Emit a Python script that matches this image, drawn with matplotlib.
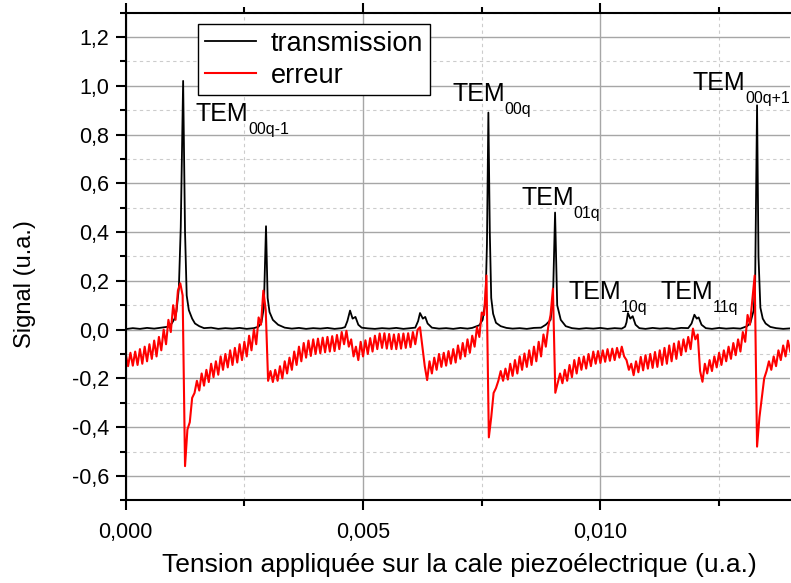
import numpy as np
import matplotlib
matplotlib.use("Agg")
import matplotlib.pyplot as plt
from matplotlib.ticker import MultipleLocator, FuncFormatter

plt.rcParams['font.family'] = ['Liberation Sans', 'DejaVu Sans']

# transmission (pics d'Airy), abscisse en unites de 1e-3
trans_x = [0.00, 0.15, 0.30, 0.45, 0.60, 0.75, 0.90, 0.97, 1.03, 1.07, 1.12, 1.16, 1.21, 1.25, 1.285,
           1.33, 1.40, 1.46, 1.55, 1.65, 1.80, 1.95, 2.10, 2.25, 2.40, 2.55, 2.70, 2.80, 2.86, 2.91,
           2.956, 2.99, 3.03, 3.10, 3.21, 3.35, 3.50, 3.65, 3.80, 3.95, 4.10, 4.25, 4.40, 4.55, 4.62,
           4.67, 4.726, 4.78, 4.84, 4.90, 4.97, 5.10, 5.25, 5.40, 5.55, 5.70, 5.85, 6.00, 6.10, 6.16,
           6.20, 6.26, 6.31, 6.36, 6.45, 6.60, 6.75, 6.90, 7.05, 7.20, 7.30, 7.45, 7.52, 7.58, 7.61,
           7.64, 7.67, 7.70, 7.74, 7.80, 7.90, 8.02, 8.15, 8.30, 8.45, 8.60, 8.75, 8.85, 8.95, 9.00,
           9.045, 9.09, 9.165, 9.27, 9.40, 9.55, 9.70, 9.85, 10.00, 10.15, 10.30, 10.45, 10.52, 10.55, 10.58,
           10.63, 10.68, 10.74, 10.82, 10.95, 11.10, 11.25, 11.40, 11.55, 11.70, 11.85, 11.92, 11.98, 12.03, 12.07,
           12.13, 12.22, 12.35, 12.50, 12.65, 12.80, 12.95, 13.09, 13.16, 13.23, 13.26, 13.30, 13.33, 13.37, 13.42,
           13.48, 13.58, 13.70, 13.85, 14.00]
trans_y = [0.002, 0.006, 0.003, 0.007, 0.004, 0.008, 0.012, 0.025, 0.045, 0.075, 0.17, 0.42, 1.02, 0.40, 0.14,
           0.08, 0.045, 0.025, 0.014, 0.006, 0.008, 0.003, 0.006, 0.004, 0.007, 0.003, 0.006, 0.012, 0.03, 0.09,
           0.424, 0.13, 0.072, 0.04, 0.02, 0.008, 0.004, 0.007, 0.003, 0.006, 0.004, 0.007, 0.003, 0.006, 0.01,
           0.035, 0.078, 0.045, 0.052, 0.02, 0.008, 0.005, 0.003, 0.006, 0.004, 0.007, 0.003, 0.006, 0.008, 0.035,
           0.068, 0.045, 0.052, 0.025, 0.008, 0.004, 0.006, 0.003, 0.007, 0.004, 0.007, 0.018, 0.04, 0.12, 0.35,
           0.89, 0.40, 0.13, 0.065, 0.028, 0.014, 0.007, 0.004, 0.006, 0.003, 0.007, 0.008, 0.02, 0.04, 0.12,
           0.48, 0.10, 0.04, 0.014, 0.006, 0.003, 0.006, 0.004, 0.007, 0.003, 0.006, 0.004, 0.012, 0.03, 0.068,
           0.045, 0.055, 0.02, 0.006, 0.003, 0.007, 0.004, 0.006, 0.003, 0.007, 0.006, 0.025, 0.061, 0.045, 0.05,
           0.02, 0.006, 0.003, 0.007, 0.004, 0.006, 0.004, 0.014, 0.028, 0.08, 0.20, 0.92, 0.30, 0.09, 0.045,
           0.025, 0.011, 0.006, 0.003, 0.005]

# signal d'erreur, echantillonne regulierement de 0 a 0.014
err_start, err_stop = 0.0, 0.014
err_y = [
    -0.100, -0.150, -0.095, -0.148, -0.090, -0.145, -0.080, -0.140, -0.070, -0.130,
    -0.060, -0.120, -0.045, -0.110, -0.030, -0.085, 0.000, -0.060, 0.040, -0.010,
    0.100, 0.040, 0.160, 0.190, 0.140, -0.560, -0.410, -0.380, -0.280, -0.260,
    -0.210, -0.250, -0.180, -0.230, -0.165, -0.215, -0.140, -0.195, -0.130, -0.185,
    -0.110, -0.165, -0.100, -0.155, -0.085, -0.145, -0.075, -0.135, -0.060, -0.125,
    -0.050, -0.110, -0.025, -0.085, 0.000, -0.060, 0.050, 0.020, 0.160, 0.080,
    -0.210, -0.170, -0.215, -0.165, -0.210, -0.150, -0.200, -0.130, -0.180, -0.115,
    -0.165, -0.090, -0.145, -0.070, -0.130, -0.055, -0.115, -0.045, -0.108, -0.040,
    -0.100, -0.037, -0.097, -0.033, -0.093, -0.030, -0.090, -0.027, -0.088, -0.022,
    -0.080, -0.010, -0.060, -0.005, -0.070, -0.040, -0.110, -0.070, -0.125, -0.050,
    -0.110, -0.044, -0.100, -0.035, -0.090, -0.025, -0.080, -0.016, -0.075, -0.015,
    -0.078, -0.018, -0.080, -0.020, -0.080, -0.018, -0.078, -0.016, -0.075, -0.015,
    -0.072, -0.010, -0.060, 0.000, 0.010, -0.070, -0.150, -0.207, -0.130, -0.180,
    -0.115, -0.165, -0.100, -0.153, -0.095, -0.148, -0.088, -0.140, -0.080, -0.135,
    -0.065, -0.120, -0.055, -0.110, -0.040, -0.095, -0.025, -0.070, 0.010, -0.030,
    0.070, 0.060, 0.222, -0.442, -0.360, -0.260, -0.240, -0.210, -0.170, -0.210,
    -0.160, -0.205, -0.140, -0.190, -0.125, -0.180, -0.110, -0.165, -0.098, -0.153,
    -0.085, -0.145, -0.070, -0.130, -0.050, -0.110, -0.020, -0.070, 0.010, 0.060,
    0.168, -0.259, -0.220, -0.180, -0.220, -0.165, -0.210, -0.145, -0.195, -0.125,
    -0.180, -0.115, -0.165, -0.110, -0.160, -0.100, -0.150, -0.090, -0.140, -0.088,
    -0.137, -0.085, -0.132, -0.080, -0.128, -0.078, -0.125, -0.075, -0.115, -0.070,
    -0.110, -0.125, -0.165, -0.140, -0.187, -0.130, -0.175, -0.112, -0.167, -0.105,
    -0.160, -0.100, -0.157, -0.092, -0.153, -0.085, -0.145, -0.075, -0.140, -0.065,
    -0.130, -0.057, -0.120, -0.048, -0.105, -0.040, -0.090, -0.030, -0.080, 0.004,
    -0.040, -0.020, -0.170, -0.214, -0.140, -0.180, -0.125, -0.170, -0.110, -0.155,
    -0.095, -0.145, -0.085, -0.130, -0.070, -0.120, -0.055, -0.105, -0.040, -0.090,
    -0.010, -0.050, 0.060, 0.020, 0.120, 0.222, -0.480, -0.360, -0.280, -0.200,
    -0.170, -0.130, -0.165, -0.110, -0.150, -0.085, -0.125, -0.065, -0.110, -0.045,
    -0.090,
]

# etiquettes des modes : (texte, indice, x en 1e-3, y)
mode_labels = [
    ("TEM", "00q-1", 1.47, 0.856),
    ("TEM", "00q", 6.875, 0.936),
    ("TEM", "01q", 8.33, 0.510),
    ("TEM", "10q", 9.326, 0.124),
    ("TEM", "11q", 11.264, 0.124),
    ("TEM", "00q+1", 11.94, 0.981),
]

tx = np.array(trans_x) * 1e-3
ex = np.linspace(err_start, err_stop, len(err_y))

fig = plt.figure(figsize=(7.91, 5.83), dpi=100)
ax = fig.add_axes([0.1589, 0.1419, 0.8402, 0.8364])

ax.plot(tx, trans_y, color='black', lw=1.3, label='transmission')
ax.plot(ex, err_y, color='#ff0000', lw=1.5, label='erreur')

ax.set_xlim(0, 0.014)
ax.set_ylim(-0.7, 1.3)

ax.xaxis.set_major_locator(MultipleLocator(0.005))
ax.xaxis.set_minor_locator(MultipleLocator(0.0025))
ax.yaxis.set_major_locator(MultipleLocator(0.2))
ax.yaxis.set_minor_locator(MultipleLocator(0.1))
ax.xaxis.set_major_formatter(FuncFormatter(lambda v, p: f"{v:.3f}".replace('.', ',')))
ax.yaxis.set_major_formatter(FuncFormatter(lambda v, p: f"{v:.1f}".replace('.', ',').replace('-0,0', '0,0')))

ax.set_axisbelow(True)
ax.grid(which='major', color='#a6a6a6', lw=1.0, ls='-')
ax.grid(which='minor', color='#cccccc', lw=0.8, ls=(0, (3, 3)))

for side in ['left', 'bottom', 'top']:
    ax.spines[side].set_linewidth(1.5)
ax.spines['right'].set_visible(False)
ax.tick_params(which='both', direction='out', top=True, right=False, width=1.5, labelsize=15.5)
ax.tick_params(which='major', length=7)
ax.tick_params(which='minor', length=4.5)
ax.tick_params(axis='x', which='major', pad=8.5)
ax.tick_params(axis='y', which='major', pad=5)

ax.set_xlabel("Tension appliquée sur la cale piezoélectrique (u.a.)", fontsize=19)
ax.set_ylabel("Signal (u.a.)", fontsize=17)
ax.xaxis.set_label_coords(0.502, -0.108)
ax.yaxis.set_label_coords(-0.135, 0.444)

for main, sub, x, y in mode_labels:
    t = ax.text(x * 1e-3, y, main, fontsize=18, ha='left', va='baseline')
    ax.annotate(sub, xy=(1, 0), xycoords=t, xytext=(0, 3), textcoords='offset points',
                fontsize=11.5, ha='left', va='top', annotation_clip=False)

leg = ax.legend(loc='upper left', bbox_to_anchor=(0.109, 0.977), borderaxespad=0,
                fontsize=19.5, fancybox=False, edgecolor='black', framealpha=1,
                handlelength=1.9, handletextpad=0.52, borderpad=0.25, labelspacing=0.22)
leg.get_frame().set_linewidth(1.0)

fig.savefig("out.png", dpi=100)
